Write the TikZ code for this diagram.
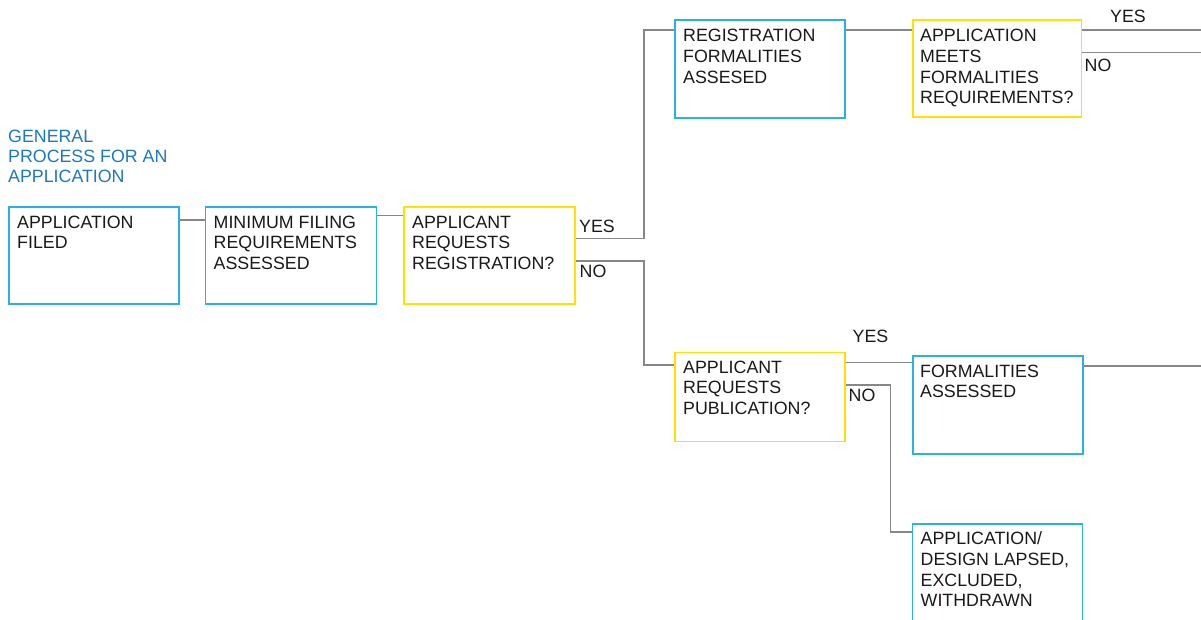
\documentclass[tikz,border=0pt]{standalone}
\usepackage{fontspec}
\setmainfont{Liberation Sans}
\usetikzlibrary{calc}
\definecolor{boxblue}{RGB}{40,178,225}
\definecolor{boxyellow}{RGB}{255,225,0}
\definecolor{titleblue}{RGB}{28,120,190}
\definecolor{linegray}{RGB}{135,135,135}
\tikzset{
  stepbox/.style={draw=boxblue, line width=1.6pt, anchor=north west, inner sep=0pt, minimum width=#1},
  askbox/.style={draw=boxyellow, line width=1.6pt, anchor=north west, inner sep=0pt, minimum width=#1},
  boxtext/.style={anchor=north west, inner sep=0pt, align=left, font=\fontsize{17.8}{20.7}\selectfont, text=black!90},
  lbl/.style={inner sep=0pt, font=\fontsize{17.8}{20.7}\selectfont, text=black!90},
  conn/.style={draw=linegray, line width=1.2pt},
}
\begin{document}
\begin{tikzpicture}[x=1pt,y=-1pt]
\useasboundingbox (0,0) rectangle (1201,620);
% title
\node[anchor=north west, inner sep=0pt, align=left, font=\fontsize{17.8}{20}\selectfont, text=titleblue] (title) at (8,130) {GENERAL\\PROCESS FOR AN\\APPLICATION};
% boxes
\node[stepbox=170pt, minimum height=97pt] (af) at (8,206) {};
\node[stepbox=171pt, minimum height=97pt] (mf) at (204.5,206) {};
\node[askbox=171pt, minimum height=97pt] (arr) at (403,206) {};
\node[stepbox=170pt, minimum height=98pt] (rfa) at (674,19.5) {};
\node[askbox=168.5pt, minimum height=97pt] (amfr) at (912,19.5) {};
\node[askbox=170pt, minimum height=89pt] (arp) at (674,351.5) {};
\node[stepbox=170pt, minimum height=98pt] (fa) at (912,355) {};
\node[stepbox=170pt, minimum height=100pt] (lapsed) at (911.5,523) {};
% texts
\node[boxtext] (taf) at ($(af.north west)+(9,9.5)$) {APPLICATION\\FILED};
\node[boxtext] (tmf) at ($(mf.north west)+(9,9.5)$) {MINIMUM FILING\\REQUIREMENTS\\ASSESSED};
\node[boxtext] (tarr) at ($(arr.north west)+(9,9.5)$) {APPLICANT\\REQUESTS\\REGISTRATION?};
\node[boxtext] (trfa) at ($(rfa.north west)+(9,9.5)$) {REGISTRATION\\FORMALITIES\\ASSESED};
\node[boxtext] (tamfr) at ($(amfr.north west)+(8,9.5)$) {APPLICATION\\MEETS\\FORMALITIES\\REQUIREMENTS?};
\node[boxtext] (tarp) at ($(arp.north west)+(9,9)$) {APPLICANT\\REQUESTS\\PUBLICATION?};
\node[boxtext] (tfa) at ($(fa.north west)+(8,9.5)$) {FORMALITIES\\ASSESSED};
\node[boxtext] (tlapsed) at ($(lapsed.north west)+(9,8.5)$) {APPLICATION/\\DESIGN LAPSED,\\EXCLUDED,\\WITHDRAWN};
% junction coordinates and free ends
\coordinate (jr) at (644,0);
\coordinate (jp) at (890.5,0);
\coordinate (edge) at (1201,0);
% connectors
\draw[conn] (af.east |- 0,220) -- (mf.west |- 0,220);
\draw[conn] (mf.east |- 0,215.5) -- (arr.west |- 0,215.5);
\draw[conn] (arr.east |- 0,238.5) -- (jr |- 0,238.5) -- (jr |- 0,30) -- (rfa.west |- 0,30);
\draw[conn] (arr.east |- 0,261) -- (jr |- 0,261) -- (jr |- 0,365) -- (arp.west |- 0,365);
\draw[conn] (rfa.east |- 0,30) -- (amfr.west |- 0,30);
\draw[conn] (amfr.east |- 0,30) -- (edge |- 0,30);
\draw[conn] (amfr.east |- 0,52.5) -- (edge |- 0,52.5);
\draw[conn] (arp.east |- 0,362.5) -- (fa.west |- 0,362.5);
\draw[conn] (arp.east |- 0,385) -- (jp |- 0,385) -- (jp |- 0,532) -- (lapsed.west |- 0,532);
\draw[conn] (fa.east |- 0,366) -- (edge |- 0,366);
% labels
\node[lbl] (yes1) at (597,226) {YES};
\node[lbl] (no1) at (593,271.5) {NO};
\node[lbl] (yes2) at (1128,16.5) {YES};
\node[lbl] (no2) at (1098,65.5) {NO};
\node[lbl] (yes3) at (870.5,336.5) {YES};
\node[lbl] (no3) at (862,395) {NO};
\end{tikzpicture}
\end{document}
